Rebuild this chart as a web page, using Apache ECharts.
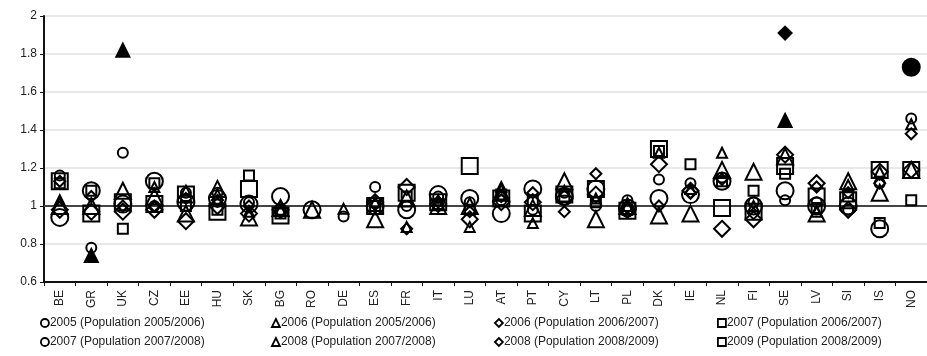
<!DOCTYPE html>
<html>
<head>
<meta charset="utf-8">
<script src="https://cdn.jsdelivr.net/npm/echarts@6/dist/echarts.min.js"></script>
<style>html,body{margin:0;padding:0;background:#fff;}#chart{width:927px;height:356px;}</style>
</head>
<body>
<div id="chart"></div>
<script>
const countries = ['BE','GR','UK','CZ','EE','HU','SK','BG','RO','DE','ES','FR','IT','LU','AT','PT','CY','LT','PL','DK','IE','NL','FI','SE','LV','SI','IS','NO'];

const yTicks = [0.6, 0.8, 1, 1.2, 1.4, 1.6, 1.8, 2];

// 2005 (Population 2005/2006)
const c2005 = [1.16,0.78,1.28,1.00,1.07,1.07,1.02,0.97,null,0.945,1.10,1.00,1.05,1.02,1.03,0.98,1.07,1.00,1.03,1.14,1.12,1.15,1.02,1.03,1.02,0.98,1.12,1.46];
// 2006 (Population 2005/2006)
const t2006a = [1.03,0.74,1.82,1.10,1.08,1.06,0.97,0.98,null,0.985,1.02,0.89,1.03,0.89,1.10,0.91,1.08,1.04,1.00,1.28,1.09,1.28,1.00,1.45,0.97,1.11,1.18,1.43];
// 2006 (Population 2006/2007)
const d2006 = [1.13,1.05,1.00,1.00,1.04,1.03,1.00,0.97,null,null,1.01,0.88,1.02,0.97,1.05,1.07,0.97,1.17,0.99,1.00,1.07,1.14,0.96,1.91,1.10,1.07,1.12,1.38];
// 2007 (Population 2006/2007)
const s2007 = [1.12,1.08,0.88,1.12,1.00,0.98,1.16,0.96,null,null,1.00,1.05,1.01,0.98,1.06,1.03,1.05,1.02,0.98,1.29,1.22,1.13,1.08,1.17,0.99,1.05,0.91,1.03];
// 2007 (Population 2007/2008)
const c2007 = [0.94,1.08,1.01,1.13,1.02,1.04,1.01,1.05,0.98,null,1.00,0.98,1.06,1.04,0.96,1.09,1.05,1.09,0.99,1.04,1.06,1.13,1.00,1.08,1.00,1.00,0.88,1.73];
// 2008 (Population 2007/2008)
const t2008 = [1.00,1.00,1.08,1.05,0.96,1.09,0.94,0.99,0.98,null,0.93,1.04,1.00,1.00,1.07,0.99,1.13,0.93,1.00,0.95,0.96,1.19,1.18,1.26,0.96,1.13,1.07,1.19];
// 2008 (Population 2008/2009)
const d2008 = [0.98,0.97,0.97,0.98,0.92,1.00,0.96,0.98,null,null,1.02,1.10,1.01,0.93,1.02,1.02,1.04,1.06,0.98,1.22,1.08,0.88,0.93,1.27,1.12,0.98,1.18,1.19];
// 2009 (Population 2008/2009)
const s2009 = [1.13,0.96,1.02,1.01,1.06,0.97,1.09,0.95,null,null,1.00,1.07,1.02,1.21,1.04,0.96,1.06,1.09,0.975,1.30,null,0.99,0.97,1.21,1.05,1.03,1.19,1.19];

const seriesNames = [
  '2005 (Population 2005/2006)', '2006 (Population 2005/2006)',
  '2006 (Population 2006/2007)', '2007 (Population 2006/2007)',
  '2007 (Population 2007/2008)', '2008 (Population 2007/2008)',
  '2008 (Population 2008/2009)', '2009 (Population 2008/2009)'
];

// points drawn filled (series index, country)
const filledPoints = [[1,'UK'],[1,'GR'],[1,'SE'],[2,'SE'],[4,'NO']];

const seriesValues = [c2005, t2006a, d2006, s2007, c2007, t2008, d2008, s2009];
const symbols = ['circle','triangle','diamond','rect','circle','triangle','diamond','rect'];
const sizes = [10,10,11,10,17,16,16,16];
const legendPos = [[40,317],[271,317],[494,317],[717,317],[40,336],[271,336],[494,336],[717,336]];

const FONT = 'Liberation Sans, Arial, sans-serif';

const series = seriesValues.map((vals, si) => {
  const data = [];
  vals.forEach((v, i) => {
    if (v == null) return;
    const filled = filledPoints.some(p => p[0] === si && p[1] === countries[i]);
    const item = { value: [countries[i], v] };
    if (filled) {
      item.itemStyle = { color: '#000', opacity: 1 };
      if (sizes[si] < 13) item.symbolSize = 13;
    }
    data.push(item);
  });
  const s = {
    name: seriesNames[si],
    type: 'scatter',
    symbol: symbols[si],
    symbolSize: sizes[si],
    data: data,
    itemStyle: { color: 'rgba(255,255,255,0)', borderColor: '#000', borderWidth: 2, opacity: 1 },
    emphasis: { disabled: true },
    z: 3
  };
  if (si === 0) {
    s.markLine = {
      silent: true,
      symbol: ['none','none'],
      label: { show: false },
      lineStyle: { color: '#444', width: 2, type: 'solid', opacity: 1 },
      data: [{ yAxis: 1 }],
      z: 1
    };
  }
  return s;
});

const legends = seriesNames.map((n, i) => ({
  data: [n],
  left: legendPos[i][0],
  top: legendPos[i][1],
  padding: 0,
  itemWidth: 8,
  itemHeight: 8,
  selectedMode: false,
  itemStyle: { borderColor: '#000', borderWidth: 1.8, opacity: 1 },
  textStyle: { fontSize: 12, fontFamily: FONT, color: '#222', padding: [0,0,0,-4] }
}));

const chart = echarts.init(document.getElementById('chart'), null, { renderer: 'canvas' });
chart.setOption({
  animation: false,
  backgroundColor: '#fff',
  grid: { left: 44, right: -7, top: 16, bottom: 74, containLabel: false },
  legend: legends,
  xAxis: {
    type: 'category',
    data: countries,
    boundaryGap: true,
    axisLine: { show: true, lineStyle: { color: '#111', width: 2 } },
    axisTick: { show: true, length: 4, lineStyle: { color: '#111', width: 1 } },
    axisLabel: { rotate: 90, fontSize: 12, fontFamily: FONT, color: '#222', margin: 8 },
    splitLine: { show: false }
  },
  yAxis: {
    type: 'value',
    min: yTicks[0],
    max: yTicks[yTicks.length - 1],
    interval: 0.2,
    axisLine: { show: true, lineStyle: { color: '#111', width: 2 } },
    axisTick: { show: true, length: 4, lineStyle: { color: '#111', width: 1 } },
    axisLabel: { fontSize: 12, fontFamily: FONT, color: '#222', margin: 7,
      formatter: v => String(Math.round(v * 10) / 10) },
    splitLine: { show: true, lineStyle: { color: '#e2e2e2', width: 1.5 } }
  },
  series: series
});
</script>
</body>
</html>
